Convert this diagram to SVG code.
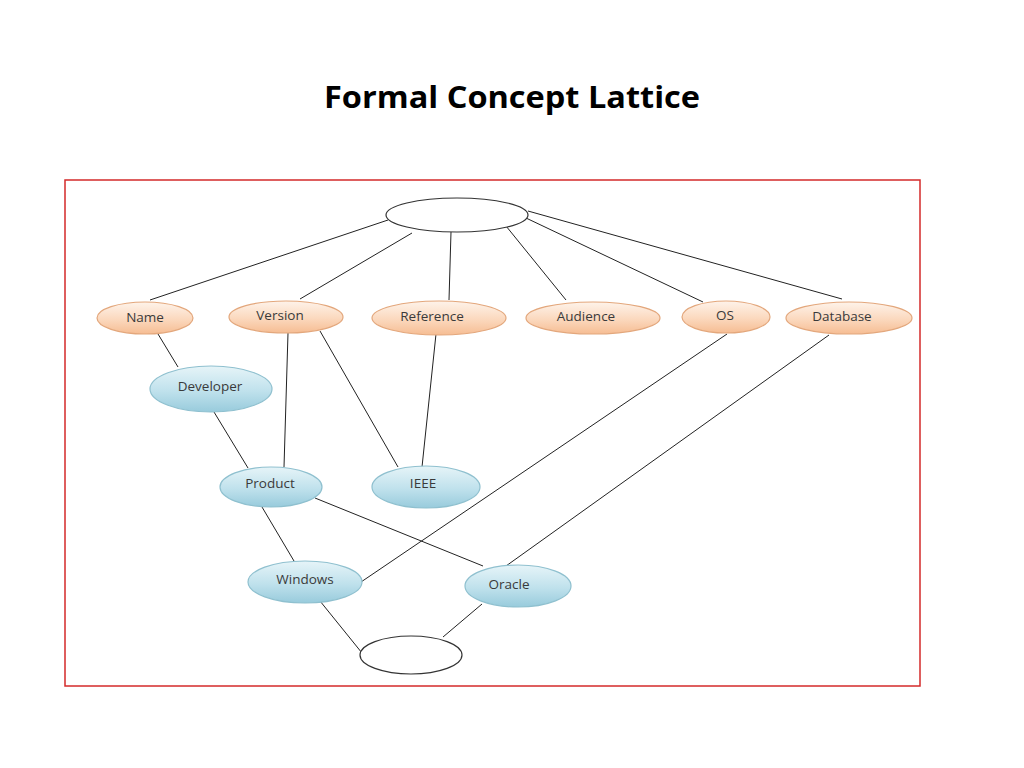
<svg xmlns="http://www.w3.org/2000/svg" width="1024" height="768" viewBox="0 0 1024 768">
<defs>
<linearGradient id="og" x1="0" y1="0" x2="0" y2="1">
<stop offset="0" stop-color="#fef3ea"/>
<stop offset="0.55" stop-color="#fbd8bd"/>
<stop offset="1" stop-color="#f6bd93"/>
</linearGradient>
<linearGradient id="bg" x1="0" y1="0" x2="0" y2="1">
<stop offset="0" stop-color="#e6f4f8"/>
<stop offset="0.55" stop-color="#bfe1ec"/>
<stop offset="1" stop-color="#98cbdc"/>
</linearGradient>
</defs>
<style>
.o{fill:url(#og);stroke:#e3a77c;stroke-width:1.2}
.b{fill:url(#bg);stroke:#8fc0cf;stroke-width:1.2}
.w{fill:#fff;stroke:#333;stroke-width:1.2}
.t{font-family:"Open Sans","Liberation Sans",sans-serif;font-size:13.5px;fill:#3a3a3a;text-anchor:middle}
#edges line{stroke:#222;stroke-width:1}
</style>
<rect width="1024" height="768" fill="#fff"/>
<text x="512" y="108" font-family="'Open Sans','Liberation Sans',sans-serif" font-weight="bold" font-size="31" text-anchor="middle" fill="#000" textLength="376" lengthAdjust="spacingAndGlyphs">Formal Concept Lattice</text>
<rect x="65" y="180" width="855" height="506" fill="none" stroke="#d42a2a" stroke-width="1.5"/>
<g id="edges">
<line x1="388" y1="220" x2="150" y2="300"/>
<line x1="412" y1="233" x2="300" y2="299"/>
<line x1="451" y1="232" x2="449" y2="300"/>
<line x1="506" y1="226" x2="566" y2="300"/>
<line x1="526" y1="218" x2="703" y2="302"/>
<line x1="528" y1="211" x2="842" y2="299"/>
<line x1="158" y1="334" x2="178" y2="367"/>
<line x1="214" y1="412" x2="248" y2="468"/>
<line x1="288" y1="333" x2="284" y2="467"/>
<line x1="320" y1="331" x2="398" y2="467"/>
<line x1="436" y1="334" x2="422" y2="467"/>
<line x1="262" y1="507" x2="294" y2="561"/>
<line x1="315" y1="498" x2="483" y2="566"/>
<line x1="727" y1="334" x2="361" y2="582"/>
<line x1="829" y1="335" x2="506" y2="566"/>
<line x1="320" y1="601" x2="362" y2="653"/>
<line x1="482" y1="604" x2="443" y2="637"/>
</g>
<g id="top"><ellipse class="w" cx="457" cy="215" rx="71" ry="17"/></g>
<g id="name"><ellipse class="o" cx="145" cy="318" rx="48" ry="16"/><text class="t" x="145" y="322">Name</text></g>
<g id="version"><ellipse class="o" cx="286" cy="317" rx="57" ry="16"/><text class="t" x="280" y="320">Version</text></g>
<g id="reference"><ellipse class="o" cx="439" cy="318" rx="67" ry="17"/><text class="t" x="432" y="321">Reference</text></g>
<g id="audience"><ellipse class="o" cx="593" cy="318" rx="67" ry="16"/><text class="t" x="586" y="321">Audience</text></g>
<g id="os"><ellipse class="o" cx="726" cy="317" rx="44" ry="16"/><text class="t" x="725" y="320">OS</text></g>
<g id="database"><ellipse class="o" cx="849" cy="318" rx="63" ry="16"/><text class="t" x="842" y="321">Database</text></g>
<g id="developer"><ellipse class="b" cx="211" cy="389" rx="61" ry="23"/><text class="t" x="210" y="391">Developer</text></g>
<g id="product"><ellipse class="b" cx="271" cy="487" rx="51" ry="20"/><text class="t" x="270" y="488">Product</text></g>
<g id="ieee"><ellipse class="b" cx="426" cy="487" rx="54" ry="21"/><text class="t" x="423" y="488">IEEE</text></g>
<g id="windows"><ellipse class="b" cx="305" cy="582" rx="57" ry="21"/><text class="t" x="305" y="584">Windows</text></g>
<g id="oracle"><ellipse class="b" cx="518" cy="586" rx="53" ry="21"/><text class="t" x="509" y="589">Oracle</text></g>
<g id="bottom"><ellipse class="w" cx="411" cy="655" rx="51" ry="19"/></g>
</svg>
